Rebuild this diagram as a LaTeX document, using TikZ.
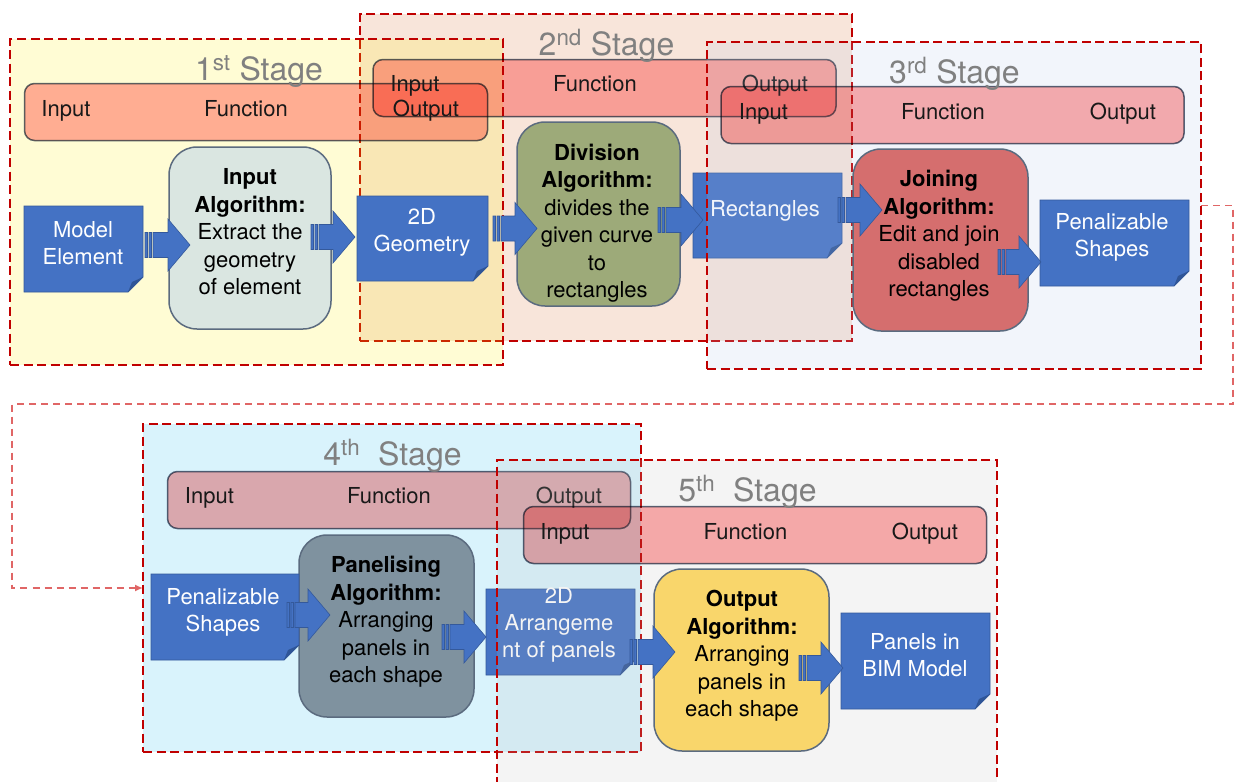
\documentclass[tikz,border=0pt]{standalone}
\usepackage{fontspec}
\setmainfont{TeX Gyre Heros}
\usetikzlibrary{calc,arrows.meta}

\definecolor{docblue}{HTML}{4472C4}
\definecolor{docedge}{HTML}{34599B}
\definecolor{docfold}{HTML}{2F5597}
\definecolor{slate}{HTML}{5B6B7F}
\definecolor{stageline}{HTML}{C00000}
\definecolor{linkred}{HTML}{E06666}
\definecolor{titlegrey}{HTML}{808080}
\definecolor{peach}{RGB}{220,125,70}
\definecolor{skyblue}{RGB}{0,176,240}
\definecolor{paleblue}{HTML}{B4C7E7}
\definecolor{greyveil}{RGB}{190,190,190}
\definecolor{barpink}{RGB}{255,176,176}
\definecolor{inalgo}{HTML}{DAE6E1}
\definecolor{divalgo}{HTML}{9DAA79}
\definecolor{joinalgo}{HTML}{D56E6E}
\definecolor{panalgo}{HTML}{7F929F}
\definecolor{outalgo}{HTML}{F9D66B}

\tikzset{
  stageframe/.style={rectangle, draw=stageline, line width=2.5pt,
    dash pattern=on 9pt off 4.5pt, inner sep=0pt, outer sep=0pt},
  iobar/.style={rectangle, rounded corners=10pt, draw=slate, line width=1.5pt,
    fill=barpink, inner sep=0pt, outer sep=0pt, minimum width=463pt, minimum height=57pt},
  iotext/.style={anchor=base, inner sep=0pt, text=black!90,
    font=\fontsize{22}{27}\selectfont},
  algo/.style={rectangle, rounded corners=28pt, draw=slate, line width=1.5pt,
    inner sep=0pt, outer sep=0pt},
  algotext/.style={align=center, inner sep=0pt, text=black,
    font=\fontsize{22}{27.5}\selectfont},
  docframe/.style={rectangle, draw=none, inner sep=0pt, outer sep=0pt},
  doctext/.style={align=center, inner sep=0pt, text=white,
    font=\fontsize{22}{27}\selectfont},
  stagetitle/.style={anchor=base, inner sep=0pt, text=titlegrey,
    font=\fontsize{32}{38}\selectfont},
  blockarrow/.style={fill=docblue, draw=docedge, line width=0.6pt},
  link/.style={draw=linkred, line width=1.5pt, dash pattern=on 7pt off 5pt,
    -{Latex[length=8pt,width=7pt]}},
}

% document shape with a folded bottom-right corner
\newcommand\docbox[4]{%
  \node[docframe, minimum width=#3, minimum height=#4] (#1) at #2 {};
  \filldraw[fill=docblue, draw=docedge, line width=0.8pt]
    (#1.north west) -- (#1.north east) -- ([yshift=15pt]#1.south east)
    -- ([xshift=-15pt]#1.south east) -- (#1.south west) -- cycle;
  \fill[docfold] ([yshift=15pt]#1.south east) -- ([xshift=-15pt]#1.south east)
    -- ([xshift=-11pt,yshift=10pt]#1.south east) -- cycle;}

% striped block arrow: tail point, tip point (tip taken at the tail's height)
\newcommand\stripedarrow[2]{%
  \path #1 coordinate (sa-tail) #2 coordinate (sa-tip);
  \filldraw[blockarrow] let \p1=(sa-tail), \p2=(sa-tip) in
    (\x1,\y1-12.5pt) rectangle (\x1+2.5pt,\y1+12.5pt)
    (\x1+4pt,\y1-12.5pt) rectangle (\x1+6.5pt,\y1+12.5pt)
    (\x1+8pt,\y1-12.5pt) -- (\x2-22pt,\y1-12.5pt) -- (\x2-22pt,\y1-26pt)
    -- (\x2,\y1) -- (\x2-22pt,\y1+26pt) -- (\x2-22pt,\y1+12.5pt)
    -- (\x1+8pt,\y1+12.5pt) -- cycle;}

\begin{document}
\begin{tikzpicture}[x=1pt, y=-1pt]
\useasboundingbox (0,0) rectangle (1235,782);
\fill[white] (0,0) rectangle (1235,782);

% ---------- stage frames, first layer ----------
\node[stageframe, fill=peach, fill opacity=0.2, minimum width=492pt, minimum height=327pt] (s2) at (606,177.5) {};
\node[stageframe, fill=yellow, fill opacity=0.17, minimum width=493pt, minimum height=326pt] (s1) at (256.5,202) {};
\node[stageframe, fill=skyblue, fill opacity=0.15, minimum width=498pt, minimum height=328pt] (s4) at (392,588) {};

% ---------- input / function / output bars ----------
\begin{scope}[blend mode=multiply]
  \node[iobar] (b2) at (604.5,88) {};
  \node[iobar] (b1) at (256,112) {};
  \node[iobar] (b4) at (399,500) {};
\end{scope}
\node[iotext] (b1-in)  at (66,116)  {Input};
\node[iotext] (b1-fn)  at (246,116) {Function};
\node[iotext] (b1-out) at (426,116) {Output};
\node[iotext] (b2-in)  at (415,91.5) {Input};
\node[iotext] (b2-fn)  at (595,91.5) {Function};
\node[iotext] (b2-out) at (775,91.5) {Output};
\node[iotext] (b4-in)  at (209.5,503) {Input};
\node[iotext] (b4-fn)  at (389,503) {Function};
\node[iotext] (b4-out) at (569,503) {Output};

% ---------- stages 1 and 2 ----------
\node[algo, fill=inalgo, minimum width=162pt, minimum height=182pt] (ia) at (250,238) {};
\node[algotext] (ia-t) at (250,232) {\textbf{Input}\\\textbf{Algorithm:}\\Extract the\\geometry\\of element};
\node[algo, fill=divalgo, minimum width=163pt, minimum height=184pt] (div) at (598.5,214) {};
\node[algotext] (div-t) at (597,223) {\textbf{Division}\\\textbf{Algorithm:}\\divides the\\given curve\\to\\rectangles};

\docbox{me}{(83.5,249)}{119pt}{86pt}
\node[doctext] (me-t) at (83,243) {Model\\Element};
\docbox{geo}{(422.5,238.5)}{131pt}{85pt}
\node[doctext] (geo-t) at (422,232) {2D\\Geometry};
\docbox{rect}{(767.5,215.5)}{149pt}{85pt}
\node[doctext] (rect-t) at (765,211) {Rectangles};

\stripedarrow{([xshift=2pt,yshift=4pt]me.east)}{([xshift=21pt]ia.west)}
\stripedarrow{([xshift=-20pt,yshift=1pt]ia.east)}{([xshift=-2pt]geo.west)}
\stripedarrow{([xshift=5pt,yshift=10pt]geo.east)}{([xshift=20pt]div.west)}
\stripedarrow{([xshift=-22pt,yshift=-6pt]div.east)}{([xshift=10pt]rect.west)}

% ---------- stage 4 ----------
\node[algo, fill=panalgo, minimum width=175pt, minimum height=182pt] (pan) at (386.5,626) {};
\node[algotext] (pan-t) at (386,622) {\textbf{Panelising}\\\textbf{Algorithm:}\\Arranging\\panels in\\each shape};
\docbox{pen4}{(225,617)}{148pt}{86pt}
\node[doctext] (pen4-t) at (223,612) {Penalizable\\Shapes};
\docbox{arr}{(560.5,632)}{149pt}{86pt}
\node[doctext] (arr-t) at (559,625) {2D\\Arrangeme\\nt of panels};

\stripedarrow{([xshift=-12pt,yshift=2pt]pen4.east)}{([xshift=31pt]pan.west)}
\stripedarrow{([xshift=-32pt,yshift=-11pt]pan.east)}{(arr.west)}

% ---------- stage frames, second layer ----------
\node[stageframe, fill=paleblue, fill opacity=0.16, minimum width=494pt, minimum height=327pt] (s3) at (954,205.5) {};
\node[stageframe, fill=greyveil, fill opacity=0.16, minimum width=500pt, minimum height=330pt] (s5) at (747,625) {};

\begin{scope}[blend mode=multiply]
  \node[iobar] (b3) at (952.5,115) {};
  \node[iobar] (b5) at (755,535) {};
\end{scope}
\node[iotext] (b3-in)  at (763.5,119) {Input};
\node[iotext] (b3-fn)  at (943,119) {Function};
\node[iotext] (b3-out) at (1123,119) {Output};
\node[iotext] (b5-in)  at (565,539) {Input};
\node[iotext] (b5-fn)  at (745.5,539) {Function};
\node[iotext] (b5-out) at (925,539) {Output};

% ---------- stages 3 and 5 ----------
\node[algo, fill=joinalgo, minimum width=175pt, minimum height=182pt] (join) at (940.5,240) {};
\node[algotext] (join-t) at (939,236) {\textbf{Joining}\\\textbf{Algorithm:}\\Edit and join\\disabled\\rectangles};
\docbox{pen}{(1114.5,243)}{149pt}{86pt}
\node[doctext] (pen-t) at (1112,237) {Penalizable\\Shapes};

\node[algo, fill=outalgo, minimum width=175pt, minimum height=182pt] (out) at (741.5,660) {};
\node[algotext] (out-t) at (742,656) {\textbf{Output}\\\textbf{Algorithm:}\\Arranging\\panels in\\each shape};
\docbox{bim}{(915.5,661)}{149pt}{96pt}
\node[doctext] (bim-t) at (915,655) {Panels in\\BIM Model};

\stripedarrow{([xshift=-4pt,yshift=5.5pt]rect.east)}{([xshift=29pt]join.west)}
\stripedarrow{([xshift=-30pt,yshift=-22pt]join.east)}{([xshift=1pt]pen.west)}
\stripedarrow{([xshift=-5pt,yshift=-20pt]arr.east)}{([xshift=21pt]out.west)}
\stripedarrow{([xshift=-30pt,yshift=-8pt]out.east)}{([xshift=2pt]bim.west)}

% ---------- link from stage 3 to stage 4 ----------
\coordinate (turnR) at (1233,404);
\coordinate (turnL) at (12,404);
\draw[link] (s3.east) -| (turnR) -- (turnL) |- (s4.west);

% ---------- stage titles ----------
\node[stagetitle] (t1) at (259,80)  {1\textsuperscript{st} Stage};
\node[stagetitle] (t2) at (606.5,55) {2\textsuperscript{nd} Stage};
\node[stagetitle] (t3) at (954.5,83) {3\textsuperscript{rd} Stage};
\node[stagetitle] (t4) at (392.5,465) {4\textsuperscript{th}\ \ Stage};
\node[stagetitle] (t5) at (747.5,501) {5\textsuperscript{th}\ \ Stage};
\end{tikzpicture}
\end{document}
